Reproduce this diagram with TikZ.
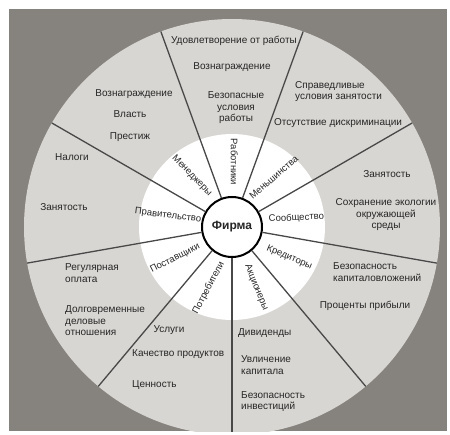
\documentclass[tikz,border=0pt]{standalone}
\usepackage{fontspec}
\setmainfont{Liberation Sans}
\usepackage{tikz}
\definecolor{bggray}{RGB}{134,130,126}
\definecolor{ringgray}{RGB}{216,214,210}
\definecolor{linegray}{RGB}{72,72,72}
\tikzstyle{spoke} = [linegray, line width=1.3pt]
\tikzstyle{role} = [font=\fontsize{9.5}{10}\selectfont, inner sep=0pt]
\tikzstyle{want} = [font=\fontsize{10}{11.5}\selectfont, align=center, inner sep=0pt]
\tikzstyle{wantl} = [want, align=left, anchor=west]

\begin{document}
\begin{tikzpicture}[x=1pt, y=1pt, text=black!85]
  \useasboundingbox (-232,-207) rectangle (218,227);
  % Background and rings
  \fill[bggray] (-223,-204) rectangle (215,218);
  \begin{scope}
    \clip (-223,-204) rectangle (215,218);
    \fill[ringgray] (0,0) circle (208pt);
    \fill[white] (0,0) circle (93pt);
    \node[circle, draw, line width=2pt, minimum size=60pt, inner sep=0pt, fill=white,
          font=\fontsize{12}{14}\selectfont\bfseries] (firm) {Фирма};
    % Spokes
    \foreach \a [count=\i] in {110,70,30,-10,-50,-90,-130,-170,150}{
      \coordinate (rim\i) at (\a:208pt);
      \draw[spoke] (firm.\a) -- (rim\i);
    }
  \end{scope}

  % Stakeholders
  \foreach \a/\r/\t [count=\i] in {88/-90/Работники, 50/41/Меньшинства, 8/3/Сообщество,
      -28/-23/Кредиторы, -68/-68/Акционеры, -111/62/Потребители,
      -151/27/Поставщики, 170/-7/Правительство, 128/-46/Менеджеры}
    \node[role, rotate=\r] (role\i) at (\a:65pt) {\t};

  % Работники
  \node[want] (w1) at (2,186) {Удовлетворение от работы};
  \node[want] (w2) at (0,160) {Вознаграждение};
  \node[want] (w3) at (4,119) {Безопасные\\условия\\работы};
  % Менеджеры
  \node[want] (m1) at (-98,133) {Вознаграждение};
  \node[want] (m2) at (-102,113) {Власть};
  \node[want] (m3) at (-102,90) {Престиж};
  % Правительство
  \node[want] (g1) at (-160,70) {Налоги};
  \node[want] (g2) at (-168,20) {Занятость};
  % Поставщики
  \node[wantl] (s1) at (-167,-46) {Регулярная\\оплата};
  \node[wantl] (s2) at (-167,-94) {Долговременные\\деловые\\отношения};
  % Потребители
  \node[want] (c1) at (-63,-103) {Услуги};
  \node[wantl] (c2) at (-100,-127) {Качество продуктов};
  \node[wantl] (c3) at (-100,-158) {Ценность};
  % Акционеры
  \node[wantl] (h1) at (6,-106) {Дивиденды};
  \node[wantl] (h2) at (9,-138) {Увличение\\капитала};
  \node[wantl] (h3) at (9,-174.5) {Безопасность\\инвестиций};
  % Кредиторы
  \node[wantl] (k1) at (101,-45) {Безопасность\\капиталовложений};
  \node[want] (k2) at (133,-79) {Проценты прибыли};
  % Сообщество
  \node[want] (o1) at (155,53) {Занятость};
  \node[want] (o2) at (154,12) {Сохранение экологии\\окружающей\\среды};
  % Меньшинства
  \node[wantl] (n1) at (63,135.5) {Справедливые\\условия занятости};
  \node[want] (n2) at (106,104) {Отсутствие дискриминации};
\end{tikzpicture}
\end{document}
